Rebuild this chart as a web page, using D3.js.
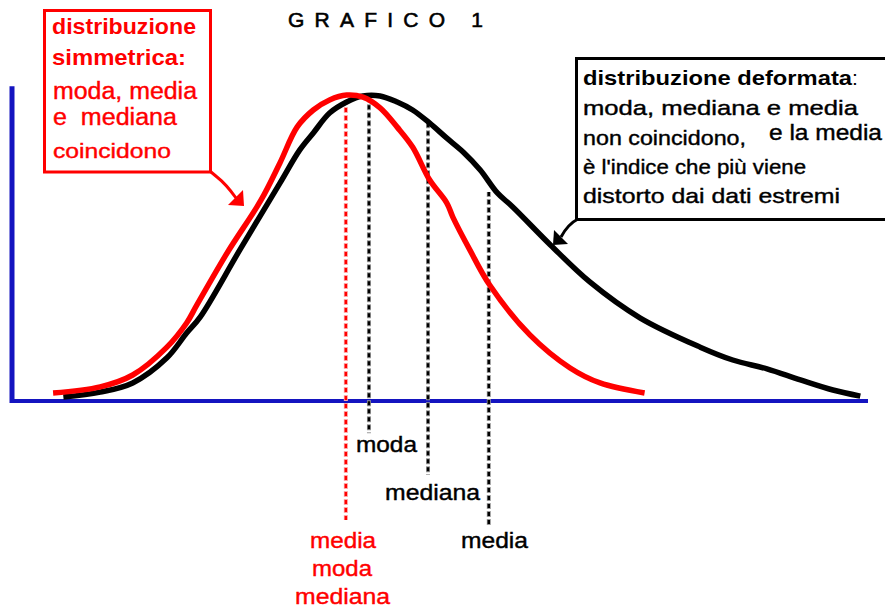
<!DOCTYPE html>
<html>
<head>
<meta charset="utf-8">
<script src="https://cdn.jsdelivr.net/npm/d3@7"></script>
<style>
html,body{margin:0;padding:0;background:#fff;}
svg{display:block;}
text{font-family:"Liberation Sans",Arial,sans-serif;}
</style>
</head>
<body>
<svg id="chart" width="885" height="609"></svg>
<script>
// ---- data ----
const title = "GRAFICO 1";
// symmetric distribution (red)
const redX = [4.8,10.3,14.1,18.1,20.4,21.6,25.2,29.1,31.3,33.3,35.2,37.1,39.1,41.0,43.0,45.0,46.8,48.8,50.8,51.5,53.5,55.8,60.5,65.2,68.7,73.9];
const redY = [2.6,4.6,8.5,17.6,25.5,31.4,48.7,65.7,77.8,89.5,95.1,98.4,100,99.3,95.8,89.5,83.0,72.2,64.7,60.1,49.3,37.9,21.6,10.8,5.9,2.6];
// skewed distribution (black)
const blackX = [6.0,10.3,14.1,18.1,20.4,22.0,26.6,31.3,33.6,35.2,37.1,39.1,41.0,43.0,45.0,46.8,48.8,50.8,52.7,54.7,56.7,58.5,62.9,67.5,73.4,80.4,84.2,88.2,92.1,95.9,99.1];
const blackY = [1.3,2.9,5.9,14.1,22.2,27.5,49.3,71.2,82.0,87.6,94.1,97.7,99.7,99.7,97.7,95.1,90.8,85.9,81.4,75.5,68.0,63.4,51.0,38.9,27.1,17.6,13.4,10.5,6.9,3.6,1.6];
// position indices (dotted lines)
const markerX      = [39.0, 41.7, 48.6, 55.7];
const markerTop    = [98.4, 99.3, 90.8, 68.3];
const markerBottom = [-38.9, -10.5, -24.2, -41.2];
const markerColor  = ["red","black","black","black"];
// texts
const redBoxBold = ["distribuzione","simmetrica:"];
const redBoxText = ["moda, media","e  mediana","coincidono"];
const blackBoxBold = "distribuzione deformata";
const blackBoxText = ["moda, mediana e media","non coincidono,","è l'indice che più viene","distorto dai dati estremi"];
const redLabels = ["media","moda","mediana"];

// ---- scales ----
const x = d3.scaleLinear().domain([0,100]).range([12,868]);
const y = d3.scaleLinear().domain([0,100]).range([401,95]);

const svg = d3.select("#chart");
const BLUE = "#1414c0", RED = "#ff0000";

// axes
svg.append("line").attr("x1",x(0)).attr("x2",x(0)).attr("y1",y(0)+2).attr("y2",y(102.9))
  .attr("stroke",BLUE).attr("stroke-width",5);
svg.append("line").attr("x1",x(0)-2).attr("x2",x(100)).attr("y1",y(0)).attr("y2",y(0))
  .attr("stroke",BLUE).attr("stroke-width",4);

// dotted lines
markerX.forEach((mx,i)=>{
  const halo = markerColor[i]==="red" ? "#ffa8a8" : "#9a9a9a";
  const core = markerColor[i]==="red" ? RED : "#000";
  svg.append("line").attr("x1",x(mx)).attr("x2",x(mx)).attr("y1",y(markerTop[i])).attr("y2",y(markerBottom[i]))
    .attr("stroke",halo).attr("stroke-width",4).attr("stroke-dasharray","6 2").attr("stroke-dashoffset",1);
  svg.append("line").attr("x1",x(mx)).attr("x2",x(mx)).attr("y1",y(markerTop[i])).attr("y2",y(markerBottom[i]))
    .attr("stroke",core).attr("stroke-width",2.5).attr("stroke-dasharray","4 4");
});

// curves
const line = d3.line().x(d=>x(d[0])).y(d=>y(d[1])).curve(d3.curveCatmullRom.alpha(0.5));
svg.append("path").datum(blackX.map((v,i)=>[v,blackY[i]]))
  .attr("d",line).attr("fill","none").attr("stroke","#000").attr("stroke-width",5.5).attr("stroke-linejoin","round");
svg.append("path").datum(redX.map((v,i)=>[v,redY[i]]))
  .attr("d",line).attr("fill","none").attr("stroke",RED).attr("stroke-width",5.5).attr("stroke-linejoin","round");

// title
svg.append("text").attr("x",288).attr("y",27).attr("font-size",21).attr("fill","#000")
  .attr("stroke","#000").attr("stroke-width",0.6)
  .attr("textLength",195).attr("lengthAdjust","spacing").text(title);

// red box
svg.append("rect").attr("x",44.5).attr("y",10.5).attr("width",166).attr("height",161.5)
  .attr("fill","#fff").attr("stroke",RED).attr("stroke-width",3);
const redBoldY = [34,65], redBoldW = [144,134];
redBoxBold.forEach((t,i)=>{
  svg.append("text").attr("x",52).attr("y",redBoldY[i]).attr("font-size",22).attr("font-weight","bold")
    .attr("fill",RED).attr("textLength",redBoldW[i]).attr("lengthAdjust","spacingAndGlyphs").text(t);
});
const redTY = [99,125,158], redTW = [144,124,118];
redBoxText.forEach((t,i)=>{
  svg.append("text").attr("x",53).attr("y",redTY[i]).attr("font-size",i===2?21:23)
    .attr("fill",RED).attr("stroke",RED).attr("stroke-width",0.4)
    .attr("textLength",redTW[i]).attr("lengthAdjust","spacingAndGlyphs")
    .attr("xml:space","preserve").style("white-space","pre").text(t);
});
// red arrow
svg.append("path").attr("d","M211,172 L217,177 Q226,184 236,198").attr("fill","none")
  .attr("stroke",RED).attr("stroke-width",3);
svg.append("polygon").attr("points","244,206 243,190 228,205").attr("fill",RED);

// black box
svg.append("rect").attr("x",576.5).attr("y",58.5).attr("width",320).attr("height",161)
  .attr("fill","#fff").attr("stroke","#000").attr("stroke-width",3);
const bb = svg.append("text").attr("x",583).attr("y",85).attr("font-size",21).attr("fill","#000");
bb.append("tspan").attr("font-weight","bold").attr("textLength",269).attr("lengthAdjust","spacingAndGlyphs").text(blackBoxBold);
bb.append("tspan").text(":");
const bTY = [115,145,174,203], bTW = [275,163,223,257];
blackBoxText.forEach((t,i)=>{
  svg.append("text").attr("x",583).attr("y",bTY[i]).attr("font-size",21).attr("fill","#000")
    .attr("stroke","#000").attr("stroke-width",0.4)
    .attr("textLength",bTW[i]).attr("lengthAdjust","spacingAndGlyphs").text(t);
});
svg.append("text").attr("x",769).attr("y",140).attr("font-size",22).attr("fill","#000")
  .attr("stroke","#000").attr("stroke-width",0.4)
  .attr("textLength",113).attr("lengthAdjust","spacingAndGlyphs").text("e la media");
// black arrow
svg.append("path").attr("d","M578,219 Q568,224 561,237").attr("fill","none")
  .attr("stroke","#000").attr("stroke-width",3);
svg.append("polygon").attr("points","553,245 554,230 568,244").attr("fill","#000");

// labels
const lab = (t,xx,yy,w,col)=>svg.append("text").attr("x",xx).attr("y",yy).attr("font-size",22)
  .attr("fill",col).attr("stroke",col).attr("stroke-width",0.4)
  .attr("textLength",w).attr("lengthAdjust","spacingAndGlyphs").text(t);
lab("moda",356,452,61,"#000");
lab("mediana",385,500,95,"#000");
lab("media",461,548,67,"#000");
const redLX = [310,312,295], redLY = [548,576,604], redLW = [66,60,95];
redLabels.forEach((t,i)=>lab(t,redLX[i],redLY[i],redLW[i],RED));
</script>
</body>
</html>
